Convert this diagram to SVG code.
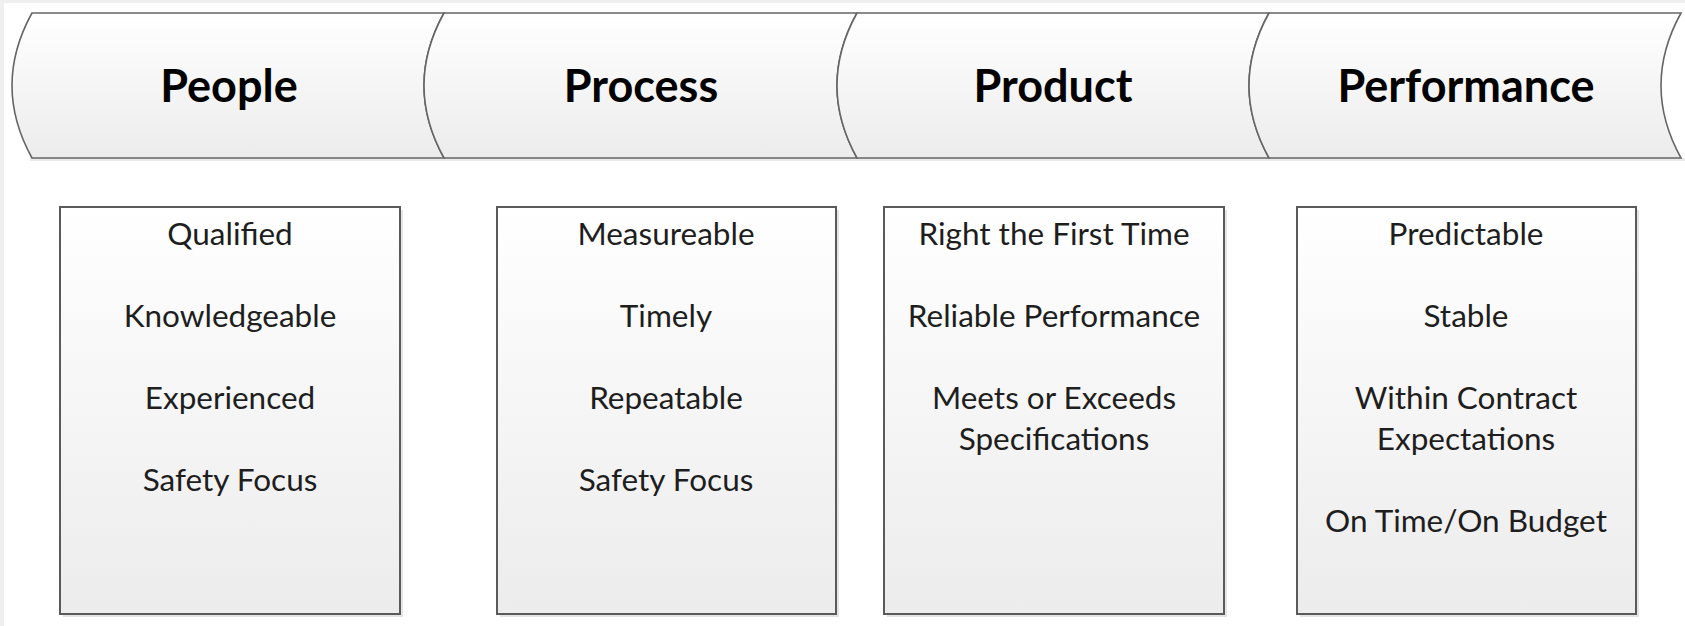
<svg xmlns="http://www.w3.org/2000/svg" width="1685" height="626" viewBox="0 0 1685 626">
<defs>
<linearGradient id="gBand" x1="0" y1="0" x2="0" y2="1">
<stop offset="0" stop-color="#ffffff"/>
<stop offset="1" stop-color="#ececec"/>
</linearGradient>
<linearGradient id="gBox" x1="0" y1="0" x2="0" y2="1">
<stop offset="0" stop-color="#ffffff"/>
<stop offset="1" stop-color="#ececec"/>
</linearGradient>
</defs>
<style>
.seg{fill:url(#gBand);stroke:#666;stroke-width:1.6}
.segsh{fill:#dcdcdc;opacity:0.6}
.box{fill:url(#gBox);stroke:#5a5a5a;stroke-width:2}
.boxsh{fill:#d9d9d9;opacity:0.7}
.h{font-family:Lato,"Liberation Sans",sans-serif;font-weight:700;font-size:45px;fill:#000;text-anchor:middle}
.t{font-family:Lato,"Liberation Sans",sans-serif;font-size:31.5px;fill:#1e1e1e;text-anchor:middle}
</style>
<rect x="0" y="0" width="1685" height="626" fill="#efefef"/>
<rect x="4" y="3" width="1681" height="623" fill="#ffffff"/>

<g id="band-shadow">
<rect x="30" y="158" width="1655" height="3" class="segsh"/>
</g>

<g id="seg-people">
<path class="seg" d="M32,13 L444,13 Q404,85.5 444,158 L32,158 Q-8,85.5 32,13 Z"/>
<text class="h" x="229" y="102">People</text>
</g>
<g id="seg-process">
<path class="seg" d="M444,13 L857,13 Q817,85.5 857,158 L444,158 Q404,85.5 444,13 Z"/>
<text class="h" x="641" y="102">Process</text>
</g>
<g id="seg-product">
<path class="seg" d="M857,13 L1269,13 Q1229,85.5 1269,158 L857,158 Q817,85.5 857,13 Z"/>
<text class="h" x="1053" y="102">Product</text>
</g>
<g id="seg-performance">
<path class="seg" d="M1269,13 L1681,13 Q1641,85.5 1681,158 L1269,158 Q1229,85.5 1269,13 Z"/>
<text class="h" x="1466" y="102">Performance</text>
</g>

<g id="box-people">
<rect class="boxsh" x="63" y="210" width="340" height="407"/>
<rect class="box" x="60" y="207" width="340" height="407"/>
<text class="t" x="230" y="245">Qualified</text>
<text class="t" x="230" y="327">Knowledgeable</text>
<text class="t" x="230" y="409">Experienced</text>
<text class="t" x="230" y="491">Safety Focus</text>
</g>
<g id="box-process">
<rect class="boxsh" x="500" y="210" width="339" height="407"/>
<rect class="box" x="497" y="207" width="339" height="407"/>
<text class="t" x="666" y="245">Measureable</text>
<text class="t" x="666" y="327">Timely</text>
<text class="t" x="666" y="409">Repeatable</text>
<text class="t" x="666" y="491">Safety Focus</text>
</g>
<g id="box-product">
<rect class="boxsh" x="887" y="210" width="340" height="407"/>
<rect class="box" x="884" y="207" width="340" height="407"/>
<text class="t" x="1054" y="245">Right the First Time</text>
<text class="t" x="1054" y="327">Reliable Performance</text>
<text class="t" x="1054" y="409">Meets or Exceeds</text>
<text class="t" x="1054" y="450">Specifications</text>
</g>
<g id="box-performance">
<rect class="boxsh" x="1300" y="210" width="339" height="407"/>
<rect class="box" x="1297" y="207" width="339" height="407"/>
<text class="t" x="1466" y="245">Predictable</text>
<text class="t" x="1466" y="327">Stable</text>
<text class="t" x="1466" y="409">Within Contract</text>
<text class="t" x="1466" y="450">Expectations</text>
<text class="t" x="1466" y="532">On Time/On Budget</text>
</g>

<g id="connectors"></g>
</svg>
